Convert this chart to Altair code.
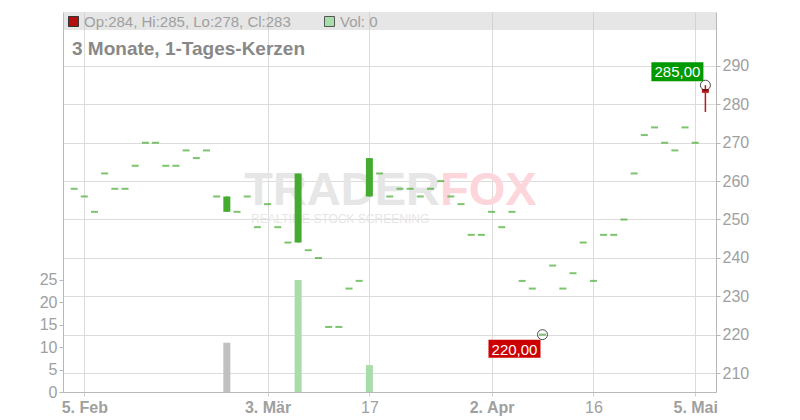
import altair as alt
import pandas as pd

# ---- data ----
tick_pos = [1, 19, 29, 41, 51, 61]
tick_labels = ["5. Feb", "3. Mär", "17", "2. Apr", "16", "5. Mai"]
tick_bold = [True, True, False, True, False, True]

opens = [258, 256, 252, 262, 258, 258, 264, 270, 270, 264, 264, 268, 266, 268, 256, 252,
         252, 256, 248, 254, 248, 244, 244, 242, 240, 222, 222, 232, 234, 256, 262, 256,
         258, 258, 256, 258, 260, 256, 254, 246, 246, 252, 248, 252, 234, 232, 220, 238,
         232, 236, 244, 234, 246, 246, 250, 262, 272, 274, 270, 268, 274, 270, 284]
closes = [258, 256, 252, 262, 258, 258, 264, 270, 270, 264, 264, 268, 266, 268, 256, 256,
          252, 256, 248, 254, 248, 244, 262, 242, 240, 222, 222, 232, 234, 266, 262, 256,
          258, 258, 256, 258, 260, 256, 254, 246, 246, 252, 248, 252, 234, 232, 220, 238,
          232, 236, 244, 234, 246, 246, 250, 262, 272, 274, 270, 268, 274, 270, 283]
highs = [258, 256, 252, 262, 258, 258, 264, 270, 270, 264, 264, 268, 266, 268, 256, 256,
         252, 256, 248, 254, 248, 244, 262, 242, 240, 222, 222, 232, 234, 266, 262, 256,
         258, 258, 256, 258, 260, 256, 254, 246, 246, 252, 248, 252, 234, 232, 220, 238,
         232, 236, 244, 234, 246, 246, 250, 262, 272, 274, 270, 268, 274, 270, 285]
lows = [258, 256, 252, 262, 258, 258, 264, 270, 270, 264, 264, 268, 266, 268, 256, 252,
        252, 256, 248, 254, 248, 244, 244, 242, 240, 222, 222, 232, 234, 256, 262, 256,
        258, 258, 256, 258, 260, 256, 254, 246, 246, 252, 248, 252, 234, 232, 220, 238,
        232, 236, 244, 234, 246, 246, 250, 262, 272, 274, 270, 268, 274, 270, 278]
volumes = [0, 0, 0, 0, 0, 0, 0, 0, 0, 0, 0, 0, 0, 0, 0, 11,
           0, 0, 0, 0, 0, 0, 25, 0, 0, 0, 0, 0, 0, 6, 0, 0,
           0, 0, 0, 0, 0, 0, 0, 0, 0, 0, 0, 0, 0, 0, 0, 0,
           0, 0, 0, 0, 0, 0, 0, 0, 0, 0, 0, 0, 0, 0, 0]

title_text = "3 Monate, 1-Tages-Kerzen"
vol_text = "Vol: 0"
wm_left, wm_right, wm_sub = "TRADER", "FOX", "REALTIME STOCK SCREENING"

# ---- build tables ----
n = len(closes)
df = pd.DataFrame({"idx": list(range(n)), "open": opens, "close": closes,
                   "high": highs, "low": lows, "vol": volumes})
df["dir"] = ["up" if c >= o else "down" for o, c in zip(opens, closes)]
prev = [closes[0]] + closes[:-1]
df["vdir"] = ["flat" if c == p else ("vup" if c > p else "vdown") for c, p in zip(closes, prev)]

hi_i = max(range(n), key=lambda i: highs[i])
lo_i = min(range(n), key=lambda i: lows[i])
fmt = lambda v: f"{v:.2f}".replace(".", ",")
hi_df = pd.DataFrame({"idx": [hi_i], "val": [highs[hi_i]], "lab": [fmt(highs[hi_i])]})
lo_df = pd.DataFrame({"idx": [lo_i], "val": [lows[lo_i]], "lab": [fmt(lows[lo_i])]})
ext_df = pd.concat([hi_df, lo_df])
last = n - 1
ohlc_text = f"Op:{opens[last]}, Hi:{highs[last]}, Lo:{lows[last]}, Cl:{closes[last]}"
one = pd.DataFrame({"a": [0]})

GREEN = "#45ab30"
RED = "#b81c1c"
FONT = "Liberation Sans"
LABEL_COL = "#a0a0a0"

label_expr = " : ".join(f"datum.value == {p} ? '{l}'" for p, l in zip(tick_pos, tick_labels)) + " : ''"
bold_test = " || ".join(f"datum.value == {p}" for p, b in zip(tick_pos, tick_bold) if b)

x_enc = alt.X("idx:Q",
              scale=alt.Scale(domain=[-0.6, 62.55], nice=False, zero=False),
              axis=alt.Axis(values=tick_pos, labelExpr=label_expr, grid=True,
                            gridColor="#dcdcdc", domainColor="#b8b8b8", tickColor="#d0d0d0",
                            tickSize=4, labelPadding=3, labelFontSize=16, labelFont=FONT,
                            labelColor=LABEL_COL,
                            labelFontWeight={"condition": {"test": bold_test, "value": "bold"},
                                             "value": "normal"},
                            title=None))
y_scale = alt.Scale(domain=[205.05, 304.07], nice=False, zero=False)
y_axis = alt.Axis(orient="right", values=list(range(210, 291, 10)), format="d", grid=True,
                  gridColor="#dcdcdc", domainColor="#b8b8b8", tickColor="#b8b8b8",
                  tickSize=4, labelPadding=2, labelFontSize=16, labelFont=FONT,
                  labelColor=LABEL_COL, title=None)


def py(field):
    return alt.Y(f"{field}:Q", scale=y_scale, axis=y_axis)


col_enc = alt.Color("dir:N", scale=alt.Scale(domain=["up", "down"], range=[GREEN, RED]), legend=None)

base = alt.Chart(df)

# legend bar
bar_bg = alt.Chart(one).mark_rect(fill="#c4c4c4", opacity=0.42).encode(
    x=alt.value(0), x2=alt.value(653), y=alt.value(0), y2=alt.value(18))

# watermark
wm1 = alt.Chart(one).mark_text(text=wm_left, font=FONT, fontWeight="bold", fontSize=47,
                               color="#e6e6e6", align="right", baseline="alphabetic").encode(
    x=alt.value(377), y=alt.value(193))
wm2 = alt.Chart(one).mark_text(text=wm_right, font=FONT, fontWeight="bold", fontSize=47,
                               color="#fcd6db", align="left", baseline="alphabetic").encode(
    x=alt.value(377), y=alt.value(193))
wm3 = alt.Chart(one).mark_text(text=wm_sub, font=FONT, fontSize=12,
                               color="#e6e6e6", align="left", baseline="alphabetic").encode(
    x=alt.value(188), y=alt.value(211))

wick = base.transform_filter("datum.high != datum.low").mark_rule(strokeWidth=1.5).encode(
    x=x_enc, y=py("low"), y2="high:Q", color=col_enc)
body = base.transform_filter("datum.open != datum.close").mark_bar(size=7).encode(
    x=x_enc, y=py("open"), y2="close:Q", color=col_enc)
dash = base.transform_filter("datum.open == datum.close").mark_tick(
    orient="horizontal", size=7, thickness=2).encode(x=x_enc, y=py("close"), color=col_enc)

markers = alt.Chart(ext_df).mark_point(shape="circle", size=100, filled=False,
                                       color="black", strokeWidth=1).encode(x=x_enc, y=py("val"))

hi_box = alt.Chart(hi_df).mark_rect(color="#009900", xOffset=-54, x2Offset=-2,
                                    yOffset=-23, y2Offset=-4).encode(
    x=x_enc, x2="idx:Q", y=py("val"), y2="val:Q")
hi_txt = alt.Chart(hi_df).mark_text(color="white", font=FONT, fontSize=15, align="center",
                                    baseline="middle", dx=-28, dy=-13).encode(
    x=x_enc, y=py("val"), text="lab:N")
lo_box = alt.Chart(lo_df).mark_rect(color="#cc0000", xOffset=-54, x2Offset=-2,
                                    yOffset=5, y2Offset=23).encode(
    x=x_enc, x2="idx:Q", y=py("val"), y2="val:Q")
lo_txt = alt.Chart(lo_df).mark_text(color="white", font=FONT, fontSize=15, align="center",
                                    baseline="middle", dx=-28, dy=15).encode(
    x=x_enc, y=py("val"), text="lab:N")

# legend items
sq_red = alt.Chart(one).mark_rect(fill="#b51010", stroke="#333333", strokeWidth=1).encode(
    x=alt.value(5.5), x2=alt.value(15.5), y=alt.value(4.5), y2=alt.value(14.5))
sq_grn = alt.Chart(one).mark_rect(fill="#a8dca8", stroke="#555555", strokeWidth=1).encode(
    x=alt.value(261.5), x2=alt.value(271.5), y=alt.value(4.5), y2=alt.value(14.5))
t_ohlc = alt.Chart(one).mark_text(text=ohlc_text, font=FONT, fontSize=15, color=LABEL_COL,
                                  align="left", baseline="alphabetic").encode(
    x=alt.value(21), y=alt.value(14.5))
t_vol = alt.Chart(one).mark_text(text=vol_text, font=FONT, fontSize=15, color=LABEL_COL,
                                 align="left", baseline="alphabetic").encode(
    x=alt.value(277), y=alt.value(14.5))
t_title = alt.Chart(one).mark_text(text=title_text, font=FONT, fontSize=19, fontWeight="bold",
                                   color="#888888", align="left", baseline="alphabetic").encode(
    x=alt.value(9), y=alt.value(42.5))

price = alt.layer(bar_bg, wm1, wm2, wm3, wick, body, dash, markers,
                  hi_box, hi_txt, lo_box, lo_txt, sq_red, sq_grn, t_ohlc, t_vol, t_title)

volume = base.transform_filter("datum.vol > 0").mark_bar(size=7).encode(
    x=x_enc,
    y=alt.Y("vol:Q", scale=alt.Scale(domain=[0, 84.8], nice=False),
            axis=alt.Axis(orient="left", values=[0, 5, 10, 15, 20, 25], grid=False,
                          domainColor="#b8b8b8", tickColor="#b8b8b8", tickSize=4,
                          labelPadding=2, labelFontSize=16, labelFont=FONT,
                          labelColor=LABEL_COL, title=None)),
    color=alt.Color("vdir:N", scale=alt.Scale(domain=["flat", "vup", "vdown"],
                                              range=["#c0c0c0", "#a8dca8", "#f0a8a8"]),
                    legend=None))

chart = alt.layer(volume, price).resolve_scale(y="independent", color="independent").properties(
    width=653, height=380,
    padding={"left": 55, "top": 4, "right": 76, "bottom": 26},
    autosize=alt.AutoSizeParams(type="none"),
).configure_view(stroke=None)

chart.save("out.html", embed_options={"renderer": "svg", "actions": False})
